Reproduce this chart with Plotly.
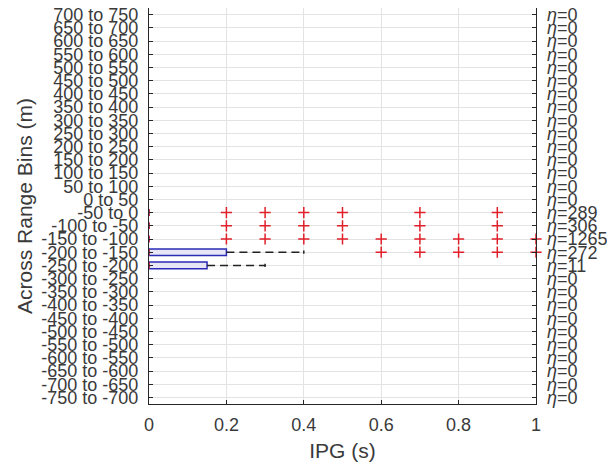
import plotly.graph_objects as go

# Category bins (bottom to top)
bin_starts = list(range(-750, 750, 50))
bin_labels = [f"{s} to {s + 50}" for s in bin_starts]

# counts per bin (bottom to top)
counts = {"-50 to 0": 289, "-100 to -50": 306, "-150 to -100": 1265,
          "-200 to -150": 272, "-250 to -200": 11}
eta = [counts.get(b, 0) for b in bin_labels]

# Box statistics for non-empty bins
box_bins = ["-50 to 0", "-100 to -50", "-150 to -100", "-200 to -150", "-250 to -200"]
q1 = [0, 0, 0, 0, 0]
median = [0, 0, 0, 0, 0]
q3 = [0, 0, 0, 0.2, 0.15]
whisk_lo = [0, 0, 0, 0, 0]
whisk_hi = [0, 0, 0, 0.4, 0.3]
outliers = [
    [0.2, 0.3, 0.4, 0.5, 0.7, 0.9],
    [0.2, 0.3, 0.4, 0.5, 0.7, 0.9],
    [0.2, 0.3, 0.4, 0.5, 0.6, 0.7, 0.8, 0.9, 1.0],
    [0.6, 0.7, 0.8, 0.9, 1.0],
    [],
]

x_ticks = [0, 0.2, 0.4, 0.6, 0.8, 1]

pos = {b: i + 1 for i, b in enumerate(bin_labels)}
HW = 0.25   # box half width
CW = 0.125  # cap half width

bx, by, wx, wy, cx, cy, mx, my, ox, oy = [], [], [], [], [], [], [], [], [], []
for i, b in enumerate(box_bins):
    p = pos[b]
    bx += [q1[i], q3[i], q3[i], q1[i], q1[i], None]
    by += [p - HW, p - HW, p + HW, p + HW, p - HW, None]
    wx += [q3[i], whisk_hi[i], None, q1[i], whisk_lo[i], None]
    wy += [p, p, None, p, p, None]
    if whisk_hi[i] > q3[i]:
        cx += [whisk_hi[i], whisk_hi[i], None]
        cy += [p - CW, p + CW, None]
    mx += [median[i], median[i], None]
    my += [p - HW, p + HW, None]
    ox += outliers[i]
    oy += [p] * len(outliers[i])

fig = go.Figure()
fig.add_trace(go.Scatter(x=bx, y=by, mode="lines", fill="toself",
                         fillcolor="#e6e6f7", line=dict(color="#2b2bb5", width=1.5),
                         hoverinfo="skip", showlegend=False))
fig.add_trace(go.Scatter(x=wx, y=wy, mode="lines",
                         line=dict(color="#222222", width=1.5, dash="8px,5px"),
                         showlegend=False))
fig.add_trace(go.Scatter(x=cx, y=cy, mode="lines",
                         line=dict(color="#222222", width=1.5), showlegend=False))
fig.add_trace(go.Scatter(x=mx, y=my, mode="lines", cliponaxis=False,
                         line=dict(color="#e0202a", width=1.5), showlegend=False))
fig.add_trace(go.Scatter(x=ox, y=oy, mode="markers", cliponaxis=False,
                         marker=dict(symbol="cross-thin", size=8,
                                     line=dict(color="#e0202a", width=1.5)),
                         showlegend=False))
# invisible trace for right axis
fig.add_trace(go.Scatter(x=[None], y=[None], yaxis="y2", showlegend=False))

tickfont = dict(family="Liberation Sans, Arial", size=18, color="#3a3a3a")
titlefont = dict(family="Liberation Sans, Arial", size=21, color="#3a3a3a")
positions = [pos[b] for b in bin_labels]

fig.update_layout(
    width=615, height=474,
    margin=dict(l=141, r=87, t=0, b=78),
    paper_bgcolor="white", plot_bgcolor="white",
    xaxis=dict(range=[0, 1], tickvals=x_ticks, ticktext=[f"{v:g}" for v in x_ticks],
               automargin=False, ticklabeloverflow="allow",
               showgrid=True, gridcolor="#e3e3e3", zeroline=False,
               showline=True, linecolor="#262626", linewidth=1.2, mirror=True,
               ticks="inside", ticklen=4, tickcolor="#262626",
               tickfont=tickfont, ticklabelstandoff=4,
               title=dict(text="IPG (s)", font=titlefont, standoff=9)),
    yaxis=dict(range=[0.5, 30.5], tickvals=positions, ticktext=bin_labels,
               automargin=False, ticklabeloverflow="allow",
               showgrid=True, gridcolor="#e3e3e3", zeroline=False,
               showline=True, linecolor="#262626", linewidth=1.2, mirror=True,
               ticks="inside", ticklen=4, tickcolor="#262626",
               tickfont=tickfont, ticklabelstandoff=6,
               title=dict(text="Across Range Bins (m)", font=titlefont, standoff=2)),
    yaxis2=dict(range=[0.5, 30.5], overlaying="y", side="right",
                automargin=False, ticklabeloverflow="allow",
                tickvals=positions, ticktext=[f"<i>η</i>={n}" for n in eta],
                showgrid=False, zeroline=False, showline=False,
                ticks="inside", ticklen=4, tickcolor="#262626",
                tickfont=tickfont, ticklabelstandoff=10),
)

fig.write_html("out.html")
